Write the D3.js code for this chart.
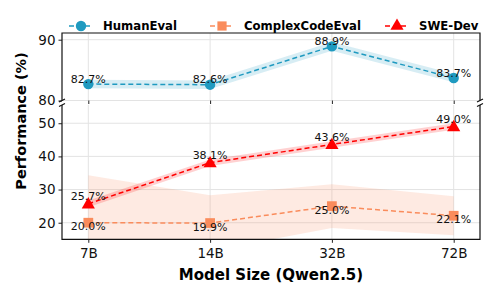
<!DOCTYPE html>
<html>
<head>
<meta charset="utf-8">
<script src="https://cdn.jsdelivr.net/npm/d3@7"></script>
<style>
  body { margin: 0; background: #fff; }
  text { font-family: "DejaVu Sans", sans-serif; }
</style>
</head>
<body>
<div id="chart"></div>
<script>
// model sizes and scores
var sizes = ["7B", "14B", "32B", "72B"];
var humanEval = [82.7, 82.6, 88.9, 83.7];
var humanEvalStd = [0.7, 0.7, 0.7, 0.7];
var complexCode = [20.0, 19.9, 25.0, 22.1];
var complexCodeStd = [14.3, 8.4, 6.6, 5.9];
var sweDev = [25.7, 38.1, 43.6, 49.0];
var sweDevStd = [1.0, 1.0, 1.0, 1.0];
var topTicks = [80, 90];
var bottomTicks = [20, 30, 40, 50];

var svgWidth = 498;
var svgHeight = 299;
var left = 62, right = 480;
var topPanel = {top: 33, bottom: 100.5};
var botPanel = {top: 105, bottom: 239.3};

var blue = "#1f9ac0", orange = "#fa8c5c", red = "#ff0000";

var svg = d3.select("#chart").append("svg")
  .attr("width", svgWidth)
  .attr("height", svgHeight);

var x = d3.scalePoint().domain(sizes).range([left, right]).padding(0.216);
var yTop = d3.scaleLinear().domain([80, 91.1]).range([topPanel.bottom, topPanel.top]);
var yBot = d3.scaleLinear().domain([15, 55.5]).range([botPanel.bottom, botPanel.top]);

var defs = svg.append("defs");
defs.append("clipPath").attr("id", "clipTop").append("rect")
  .attr("x", left).attr("y", topPanel.top).attr("width", right - left).attr("height", topPanel.bottom - topPanel.top);
defs.append("clipPath").attr("id", "clipBot").append("rect")
  .attr("x", left).attr("y", botPanel.top).attr("width", right - left).attr("height", botPanel.bottom - botPanel.top);

function grid(panel, y, ticks) {
  var g = svg.append("g");
  g.selectAll(".vg").data(sizes).enter().append("line")
    .attr("x1", d => x(d)).attr("x2", d => x(d))
    .attr("y1", panel.top).attr("y2", panel.bottom)
    .attr("stroke", "#e3e3e3").attr("stroke-width", 1);
  g.selectAll(".hg").data(ticks).enter().append("line")
    .attr("x1", left).attr("x2", right)
    .attr("y1", d => y(d)).attr("y2", d => y(d))
    .attr("stroke", "#e3e3e3").attr("stroke-width", 1);
}
grid(topPanel, yTop, topTicks);
grid(botPanel, yBot, bottomTicks);

function series(vals, std, y, clip, color, shape, labelDy) {
  var g = svg.append("g").attr("clip-path", "url(#" + clip + ")");
  var idx = d3.range(vals.length);
  var area = d3.area()
    .x(i => x(sizes[i]))
    .y0(i => y(vals[i] - std[i]))
    .y1(i => y(vals[i] + std[i]));
  g.append("path").attr("d", area(idx))
    .attr("fill", color).attr("fill-opacity", 0.18);
  var line = d3.line().x(i => x(sizes[i])).y(i => y(vals[i]));
  g.append("path").attr("d", line(idx))
    .attr("fill", "none").attr("stroke", color)
    .attr("stroke-width", 1.5).attr("stroke-dasharray", "5,3");
  var sym = d3.symbol().type(shape).size(shape === d3.symbolTriangle ? 75 : shape === d3.symbolSquare ? 95 : 85);
  svg.append("g").selectAll("path").data(idx).enter().append("path")
    .attr("d", sym)
    .attr("transform", i => `translate(${x(sizes[i])},${y(vals[i]) + (shape === d3.symbolTriangle ? 0.8 : 0)})`)
    .attr("fill", color);
  svg.append("g").selectAll("text").data(idx).enter().append("text")
    .attr("x", i => x(sizes[i]))
    .attr("y", i => y(vals[i]) + labelDy)
    .attr("text-anchor", "middle")
    .attr("dominant-baseline", "central")
    .attr("font-size", "11px")
    .attr("fill", "#111")
    .text(i => vals[i].toFixed(1) + "%");
}

series(complexCode, complexCodeStd, yBot, "clipBot", orange, d3.symbolSquare, 4);
series(sweDev, sweDevStd, yBot, "clipBot", red, d3.symbolTriangle, -7);
series(humanEval, humanEvalStd, yTop, "clipTop", blue, d3.symbolCircle, -5);

// axes
var yAxisTop = svg.append("g").attr("transform", `translate(${left},0)`)
  .call(d3.axisLeft(yTop).tickValues(topTicks).tickSize(3.5).tickPadding(3));
var yAxisBot = svg.append("g").attr("transform", `translate(${left},0)`)
  .call(d3.axisLeft(yBot).tickValues(bottomTicks).tickSize(3.5).tickPadding(3));
[yAxisTop, yAxisBot].forEach(function(a) {
  a.select(".domain").remove();
  a.selectAll("text").attr("font-size", "13.5px").attr("font-family", "DejaVu Sans").attr("fill", "#111");
  a.selectAll("line").attr("stroke", "#222");
});

var xAxisTop = svg.append("g").attr("transform", `translate(0,${topPanel.bottom})`)
  .call(d3.axisBottom(x).tickSize(3.5).tickFormat(""));
xAxisTop.select(".domain").remove();
var xAxisBot = svg.append("g").attr("transform", `translate(0,${botPanel.bottom})`)
  .call(d3.axisBottom(x).tickSize(3.5).tickPadding(6));
xAxisBot.select(".domain").remove();
xAxisBot.selectAll("text").attr("font-size", "13.5px").attr("font-family", "DejaVu Sans").attr("fill", "#111");
[xAxisTop, xAxisBot].forEach(a => a.selectAll("line").attr("stroke", "#222"));

// spines
var sp = svg.append("g").attr("stroke", "#111").attr("stroke-width", 1.2).attr("fill", "none");
sp.append("path").attr("d", `M${left},${topPanel.bottom}V${topPanel.top}H${right}V${topPanel.bottom}`);
sp.append("path").attr("d", `M${left},${botPanel.top}V${botPanel.bottom}H${right}V${botPanel.top}`);

// break marks
var bk = svg.append("g").attr("stroke", "#111").attr("stroke-width", 1.1);
[[left, topPanel.bottom], [right, topPanel.bottom], [left, botPanel.top], [right, botPanel.top]].forEach(function(p) {
  bk.append("line").attr("x1", p[0] - 3).attr("y1", p[1] + 1.5).attr("x2", p[0] + 3).attr("y2", p[1] - 1.5);
});

// axis titles
svg.append("text")
  .attr("transform", `translate(21,121) rotate(-90)`)
  .attr("text-anchor", "middle").attr("dominant-baseline", "central")
  .attr("font-size", "14.5px").attr("font-weight", "bold")
  .text("Performance (%)");
svg.append("text")
  .attr("x", (left + right) / 2).attr("y", 275)
  .attr("text-anchor", "middle").attr("dominant-baseline", "central")
  .attr("font-size", "15px").attr("font-weight", "bold")
  .text("Model Size (Qwen2.5)");

// legend
var legendItems = [
  {name: "HumanEval", color: blue, shape: d3.symbolCircle, x: 69},
  {name: "ComplexCodeEval", color: orange, shape: d3.symbolSquare, x: 210},
  {name: "SWE-Dev", color: red, shape: d3.symbolTriangle, x: 385}
];
var lg = svg.append("g").attr("transform", "translate(0,26)");
legendItems.forEach(function(d) {
  var g = lg.append("g").attr("transform", `translate(${d.x},0)`);
  g.append("line").attr("x1", 0).attr("x2", 24).attr("y1", 0).attr("y2", 0)
    .attr("stroke", d.color).attr("stroke-width", 1.5).attr("stroke-dasharray", "5,3");
  g.append("path").attr("d", d3.symbol().type(d.shape).size(d.shape === d3.symbolTriangle ? 75 : 85)())
    .attr("transform", "translate(12,0)").attr("fill", d.color);
  g.append("text").attr("x", 34).attr("y", 0)
    .attr("dominant-baseline", "central")
    .attr("font-size", "11.7px").attr("font-weight", "bold")
    .text(d.name);
});
</script>
</body>
</html>
